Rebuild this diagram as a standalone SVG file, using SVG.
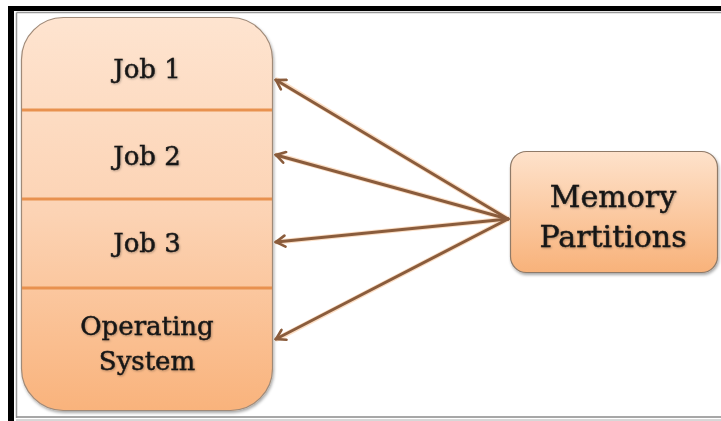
<svg xmlns="http://www.w3.org/2000/svg" width="721" height="421" viewBox="0 0 721 421">
  <style>
    .lbl { font-family: "DejaVu Serif", "Liberation Serif", serif; fill: #161616; stroke: #161616; stroke-width: 0.45; text-anchor: middle; }
    .job { font-size: 26px; }
    .big { font-size: 30px; }
    .div { stroke: #e8914f; stroke-width: 3; }
    .conn { fill: none; stroke: #8a5c3c; stroke-width: 3; stroke-linecap: round; }
    .glow { fill: none; stroke: #f3a05a; stroke-width: 5; stroke-opacity: 0.35; stroke-linecap: round; }
  </style>
  <defs>
    <linearGradient id="stackFill" x1="0" y1="0" x2="0" y2="1">
      <stop offset="0" stop-color="#fee4d0"/>
      <stop offset="0.5" stop-color="#fcd3b4"/>
      <stop offset="1" stop-color="#f9b37c"/>
    </linearGradient>
    <linearGradient id="boxFill" x1="0" y1="0" x2="0" y2="1">
      <stop offset="0" stop-color="#fee2cb"/>
      <stop offset="1" stop-color="#f8b27a"/>
    </linearGradient>
    <filter id="shadow" x="-10%" y="-10%" width="120%" height="120%">
      <feDropShadow dx="1" dy="2" stdDeviation="1.5" flood-color="#000" flood-opacity="0.35"/>
    </filter>
    <filter id="txtShadow" x="-10%" y="-20%" width="120%" height="140%">
      <feDropShadow dx="0.8" dy="1" stdDeviation="0.8" flood-color="#000" flood-opacity="0.3"/>
    </filter>
    <!-- open chevron arrowhead, apex at the line end -->
    <marker id="chev" viewBox="0 0 14 14" refX="12" refY="7" markerWidth="14" markerHeight="14" markerUnits="userSpaceOnUse" orient="auto">
      <path d="M3,1.5 L12,7 L3,12.5" fill="none" stroke="#8a5c3c" stroke-width="2.6" stroke-linejoin="miter" stroke-linecap="round"/>
    </marker>
  </defs>

  <rect width="721" height="421" fill="#ffffff"/>

  <!-- page frame -->
  <g id="frame">
    <rect x="8" y="6" width="713" height="5" fill="#000"/>
    <rect x="8" y="6" width="6" height="415" fill="#000"/>
    <line x1="16.5" y1="12.5" x2="721" y2="12.5" stroke="#9a9a9a" stroke-width="1.5"/>
    <line x1="16.5" y1="12.5" x2="16.5" y2="418" stroke="#9a9a9a" stroke-width="1.5"/>
    <line x1="16" y1="417" x2="721" y2="417" stroke="#8a8a8a" stroke-width="1.5"/>
    <line x1="16" y1="420" x2="721" y2="420" stroke="#b0b0b0" stroke-width="1"/>
  </g>

  <!-- memory stack -->
  <g id="memory-stack">
    <rect x="21.5" y="17.5" width="251" height="393" rx="42" ry="42" fill="url(#stackFill)" stroke="#a08a78" stroke-width="1.2" filter="url(#shadow)"/>
    <line class="div" x1="22" y1="110" x2="272" y2="110"/>
    <line class="div" x1="22" y1="199" x2="272" y2="199"/>
    <line class="div" x1="22" y1="288" x2="272" y2="288"/>
  </g>
  <g id="job1" filter="url(#txtShadow)"><text class="lbl job" x="147" y="78">Job 1</text></g>
  <g id="job2" filter="url(#txtShadow)"><text class="lbl job" x="147" y="165">Job 2</text></g>
  <g id="job3" filter="url(#txtShadow)"><text class="lbl job" x="147" y="252">Job 3</text></g>
  <g id="operating-system" filter="url(#txtShadow)">
    <text class="lbl job" x="147" y="335">Operating</text>
    <text class="lbl job" x="147" y="370">System</text>
  </g>

  <!-- partitions node -->
  <g id="memory-partitions">
    <rect x="510.5" y="151.5" width="207" height="121" rx="16" ry="16" fill="url(#boxFill)" stroke="#8f7a68" stroke-width="1.2" filter="url(#shadow)"/>
    <g filter="url(#txtShadow)">
      <text class="lbl big" x="613" y="207">Memory</text>
      <text class="lbl big" x="613" y="247">Partitions</text>
    </g>
  </g>

  <!-- connectors -->
  <g id="connectors">
    <path class="glow" d="M508,219 L277,80 M508,219 L277,155 M508,219 L277,242 M508,219 L277,339"/>
    <line class="conn" x1="508" y1="219" x2="276" y2="80" marker-end="url(#chev)"/>
    <line class="conn" x1="508" y1="219" x2="276" y2="155" marker-end="url(#chev)"/>
    <line class="conn" x1="508" y1="219" x2="276" y2="242" marker-end="url(#chev)"/>
    <line class="conn" x1="508" y1="219" x2="276" y2="339" marker-end="url(#chev)"/>
  </g>
</svg>
